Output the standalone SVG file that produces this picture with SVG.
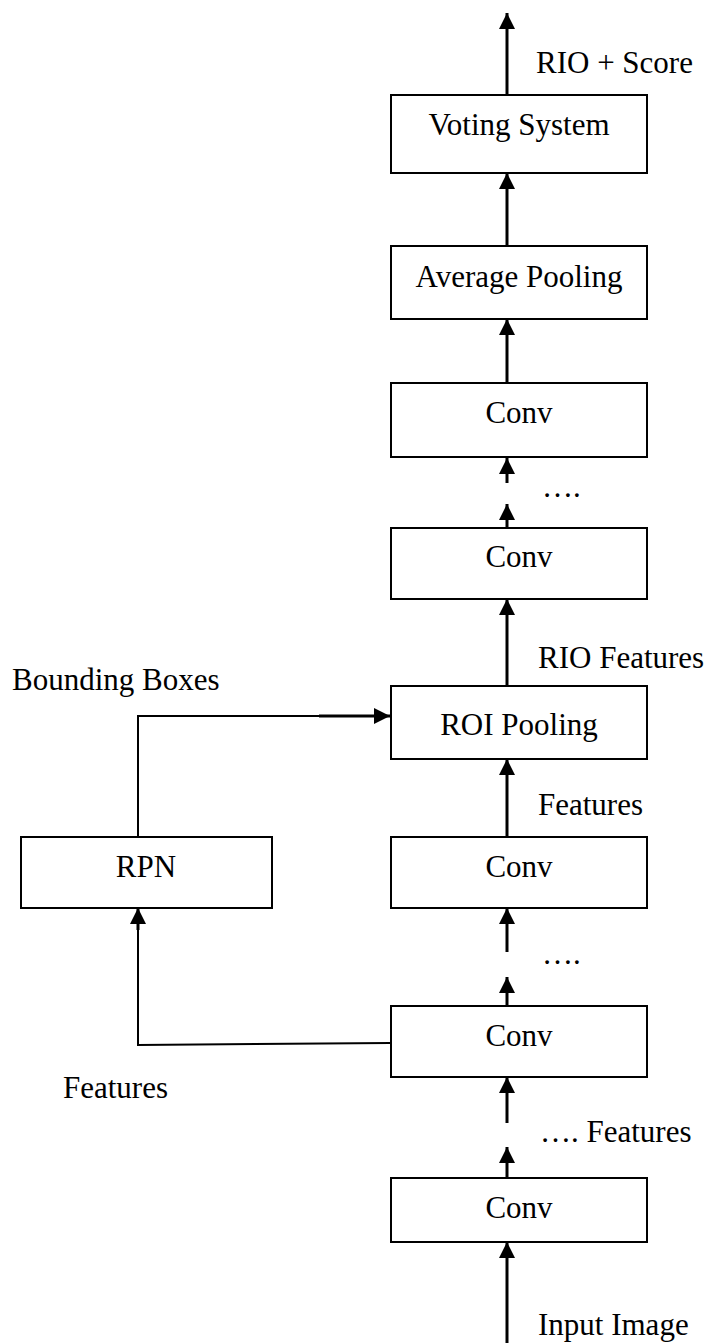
<svg xmlns="http://www.w3.org/2000/svg" width="712" height="1343" viewBox="0 0 712 1343">
  <style>
    .box { fill: #ffffff; stroke: #000000; stroke-width: 2; }
    .lbl { font-family: "Liberation Serif", "Times New Roman", serif; font-size: 31px; fill: #000000; }
    .mid { text-anchor: middle; }
    .flow { fill: none; stroke: #000000; stroke-width: 3; }
    .thin { fill: none; stroke: #000000; stroke-width: 2; }
  </style>
  <defs>
    <marker id="head" markerUnits="userSpaceOnUse" markerWidth="18" markerHeight="18" refX="16" refY="8" orient="auto">
      <path d="M0,0 L16,8 L0,16 Z" fill="#000000"/>
    </marker>
  </defs>
  <rect width="712" height="1343" fill="#ffffff"/>

  <!-- connectors -->
  <g id="connectors">
    <line class="flow" x1="507" y1="95" x2="507" y2="13" marker-end="url(#head)"/>
    <line class="flow" x1="507" y1="246" x2="507" y2="173" marker-end="url(#head)"/>
    <line class="flow" x1="507" y1="383" x2="507" y2="319" marker-end="url(#head)"/>
    <line class="flow" x1="507" y1="483" x2="507" y2="458" marker-end="url(#head)"/>
    <line class="flow" x1="507" y1="528" x2="507" y2="504" marker-end="url(#head)"/>
    <line class="flow" x1="507" y1="686" x2="507" y2="599" marker-end="url(#head)"/>
    <line class="flow" x1="507" y1="837" x2="507" y2="759" marker-end="url(#head)"/>
    <line class="flow" x1="507" y1="952" x2="507" y2="908" marker-end="url(#head)"/>
    <line class="flow" x1="507" y1="1006" x2="507" y2="977" marker-end="url(#head)"/>
    <line class="flow" x1="507" y1="1123" x2="507" y2="1077" marker-end="url(#head)"/>
    <line class="flow" x1="507" y1="1178" x2="507" y2="1147" marker-end="url(#head)"/>
    <line class="flow" x1="507" y1="1343" x2="507" y2="1242" marker-end="url(#head)"/>
    <!-- shared features from the middle conv to the RPN -->
    <polyline class="thin" points="390,1043 138,1045 138,922"/>
    <line class="flow" x1="138" y1="930" x2="138" y2="908" marker-end="url(#head)"/>
    <!-- RPN proposals into ROI pooling -->
    <polyline class="thin" points="138,837 138,716 320,716"/>
    <line class="flow" x1="319" y1="716" x2="390" y2="716" marker-end="url(#head)"/>
  </g>

  <!-- nodes -->
  <g id="voting">
    <rect class="box" x="391" y="95" width="256" height="78"/>
    <text class="lbl mid" x="519" y="135">Voting System</text>
  </g>
  <g id="avgpool">
    <rect class="box" x="391" y="246" width="256" height="73"/>
    <text class="lbl mid" x="519" y="287">Average Pooling</text>
  </g>
  <g id="conv-top">
    <rect class="box" x="391" y="383" width="256" height="74"/>
    <text class="lbl mid" x="519" y="423">Conv</text>
  </g>
  <g id="conv-roi">
    <rect class="box" x="391" y="528" width="256" height="71"/>
    <text class="lbl mid" x="519" y="567">Conv</text>
  </g>
  <g id="roipool">
    <rect class="box" x="391" y="686" width="256" height="73"/>
    <text class="lbl mid" x="519" y="735">ROI Pooling</text>
  </g>
  <g id="conv-features">
    <rect class="box" x="391" y="837" width="256" height="71"/>
    <text class="lbl mid" x="519" y="877">Conv</text>
  </g>
  <g id="rpn">
    <rect class="box" x="21" y="837" width="251" height="71"/>
    <text class="lbl mid" x="146" y="877">RPN</text>
  </g>
  <g id="conv-mid">
    <rect class="box" x="391" y="1006" width="256" height="71"/>
    <text class="lbl mid" x="519" y="1046">Conv</text>
  </g>
  <g id="conv-input">
    <rect class="box" x="391" y="1178" width="256" height="64"/>
    <text class="lbl mid" x="519" y="1218">Conv</text>
  </g>

  <!-- edge labels -->
  <g id="labels">
    <text class="lbl" x="536" y="73">RIO + Score</text>
    <text class="lbl" x="542" y="497">….</text>
    <text class="lbl" x="538" y="668">RIO Features</text>
    <text class="lbl" x="12" y="690">Bounding Boxes</text>
    <text class="lbl" x="538" y="815">Features</text>
    <text class="lbl" x="542" y="964">….</text>
    <text class="lbl" x="63" y="1098">Features</text>
    <text class="lbl" x="540" y="1142">…. Features</text>
    <text class="lbl" x="538" y="1335">Input Image</text>
  </g>
</svg>
